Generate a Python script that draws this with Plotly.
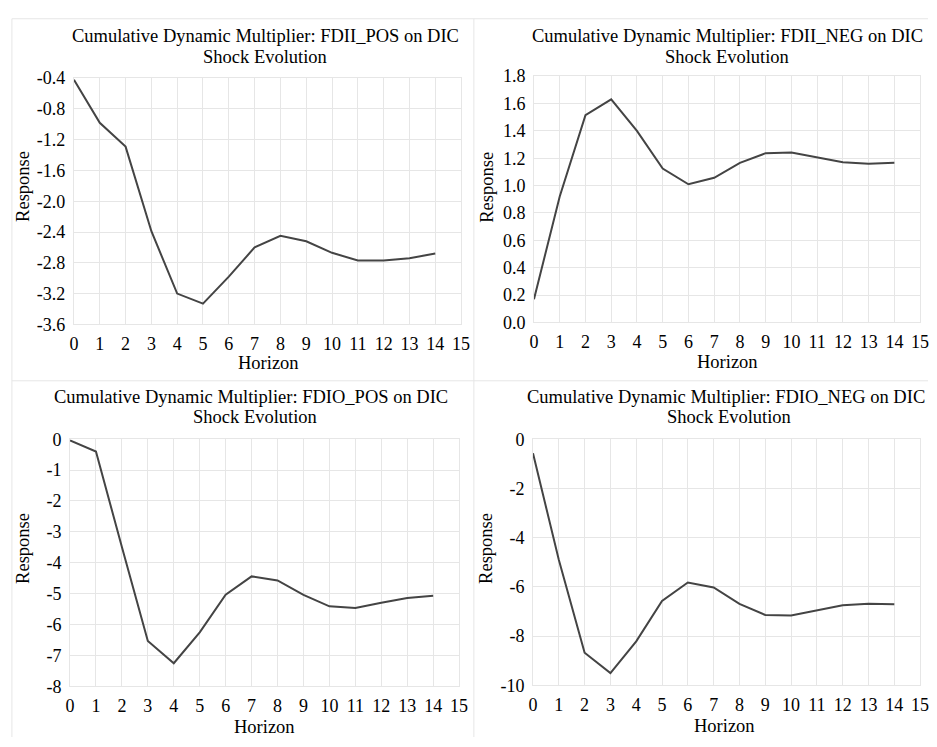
import plotly.graph_objects as go

W, H = 937, 747

horizon = list(range(15))

fdii_pos = [-0.42, -0.98, -1.29, -2.39, -3.20, -3.33, -2.98, -2.60, -2.45, -2.52, -2.67, -2.77, -2.77, -2.74, -2.68]
fdii_neg = [0.17, 0.92, 1.515, 1.63, 1.40, 1.125, 1.01, 1.057, 1.166, 1.237, 1.242, 1.206, 1.171, 1.159, 1.168]
fdio_pos = [-0.04, -0.40, -3.49, -6.53, -7.25, -6.25, -5.03, -4.44, -4.57, -5.04, -5.41, -5.46, -5.29, -5.14, -5.07]
fdio_neg = [-0.57, -4.90, -8.67, -9.50, -8.21, -6.57, -5.82, -6.02, -6.69, -7.14, -7.16, -6.96, -6.74, -6.68, -6.70]

titles = [
    "Cumulative Dynamic Multiplier: FDII_POS on DIC",
    "Cumulative Dynamic Multiplier: FDII_NEG on DIC",
    "Cumulative Dynamic Multiplier: FDIO_POS on DIC",
    "Cumulative Dynamic Multiplier: FDIO_NEG on DIC",
]
subtitle = "Shock Evolution"
x_title = "Horizon"
y_title = "Response"

x_ticks = list(range(16))
y_ticks_1 = [-3.6, -3.2, -2.8, -2.4, -2.0, -1.6, -1.2, -0.8, -0.4]
y_ticks_2 = [0.0, 0.2, 0.4, 0.6, 0.8, 1.0, 1.2, 1.4, 1.6, 1.8]
y_ticks_3 = [-8, -7, -6, -5, -4, -3, -2, -1, 0]
y_ticks_4 = [-10, -8, -6, -4, -2, 0]
y_fmt = [".1f", ".1f", "d", "d"]

series = [fdii_pos, fdii_neg, fdio_pos, fdio_neg]
yticks = [y_ticks_1, y_ticks_2, y_ticks_3, y_ticks_4]

# plot-area pixel boxes: (left, right, top, bottom)
boxes = [(70, 463, 70, 323), (537, 929, 68, 321), (66, 461, 441, 695), (536, 929, 441, 694)]
# annotation positions
title_pos = [((264, 27), (264, 48)), ((733, 27), (733, 48)), ((250, 398), (254, 418)), ((732, 398), (735, 418))]
ytitle_pos = [(18, 181), (489, 182), (18, 553), (489, 553)]
xtitle_pos = [(267, 363), (733, 362), (263, 737), (730, 736)]

FONT = "Liberation Serif"
FS = 18.5
GRID = "#e6e6e6"
LINE = "#444444"

def px(x):
    return x / W

def py(y):
    return 1 - y / H

fig = go.Figure()
annotations = []
layout = {}

def fmt(v, f):
    s = format(v, ".1f") if f == ".1f" else str(int(v))
    return s

tf = dict(family=FONT, size=FS, color="#000000")
tickf = dict(family="Liberation Serif", size=18, color="#000000")

for i in range(4):
    idx = "" if i == 0 else str(i + 1)
    l, r, t, b = boxes[i]
    fig.add_trace(go.Scatter(
        x=horizon, y=series[i], mode="lines",
        line=dict(color=LINE, width=2),
        xaxis="x" + idx, yaxis="y" + idx, showlegend=False, hoverinfo="skip",
    ))
    layout["xaxis" + idx] = dict(
        domain=[px(l), px(r)], anchor="y" + idx, range=[0, 15],
        tickmode="array", tickvals=x_ticks, ticktext=[str(v) for v in x_ticks],
        showgrid=True, gridcolor=GRID, gridwidth=1, zeroline=False,
        showline=True, linecolor=GRID, linewidth=1, mirror=True,
        ticks="outside", ticklen=3, tickcolor="rgba(0,0,0,0)", tickfont=tickf,
    )
    yt = yticks[i]
    layout["yaxis" + idx] = dict(
        domain=[py(b), py(t)], anchor="x" + idx, range=[yt[0], yt[-1]],
        tickmode="array", tickvals=yt, ticktext=[fmt(v, y_fmt[i]) for v in yt],
        showgrid=True, gridcolor=GRID, gridwidth=1, zeroline=False,
        showline=True, linecolor=GRID, linewidth=1, mirror=True,
        ticks="outside", ticklen=4, tickcolor="rgba(0,0,0,0)", tickfont=tickf,
    )
    (x1, y1), (x2, y2) = title_pos[i]
    annotations.append(dict(text=titles[i], x=px(x1), y=py(y1), xref="paper", yref="paper",
                            showarrow=False, xanchor="center", yanchor="middle", font=tf))
    annotations.append(dict(text=subtitle, x=px(x2), y=py(y2), xref="paper", yref="paper",
                            showarrow=False, xanchor="center", yanchor="middle", font=tf))
    xa, ya = ytitle_pos[i]
    annotations.append(dict(text=y_title, x=px(xa), y=py(ya), xref="paper", yref="paper",
                            showarrow=False, xanchor="center", yanchor="middle", textangle=-90, font=tf))
    xa, ya = xtitle_pos[i]
    annotations.append(dict(text=x_title, x=px(xa), y=py(ya), xref="paper", yref="paper",
                            showarrow=False, xanchor="center", yanchor="middle", font=tf))

shapes = [
    dict(type="line", xref="paper", yref="paper", x0=px(7), x1=px(7), y0=py(9), y1=0, line=dict(color=GRID, width=1)),
    dict(type="line", xref="paper", yref="paper", x0=px(7), x1=1, y0=py(9), y1=py(9), line=dict(color=GRID, width=1)),
    dict(type="line", xref="paper", yref="paper", x0=px(476), x1=px(476), y0=py(9), y1=0, line=dict(color=GRID, width=1)),
    dict(type="line", xref="paper", yref="paper", x0=px(7), x1=1, y0=py(381), y1=py(381), line=dict(color=GRID, width=1)),
]

fig.update_layout(
    width=W, height=H, margin=dict(l=0, r=0, t=0, b=0),
    paper_bgcolor="white", plot_bgcolor="white",
    font=dict(family=FONT, size=FS, color="#000000"),
    annotations=annotations, shapes=shapes, showlegend=False,
    **layout,
)

fig.write_html("out.html")
